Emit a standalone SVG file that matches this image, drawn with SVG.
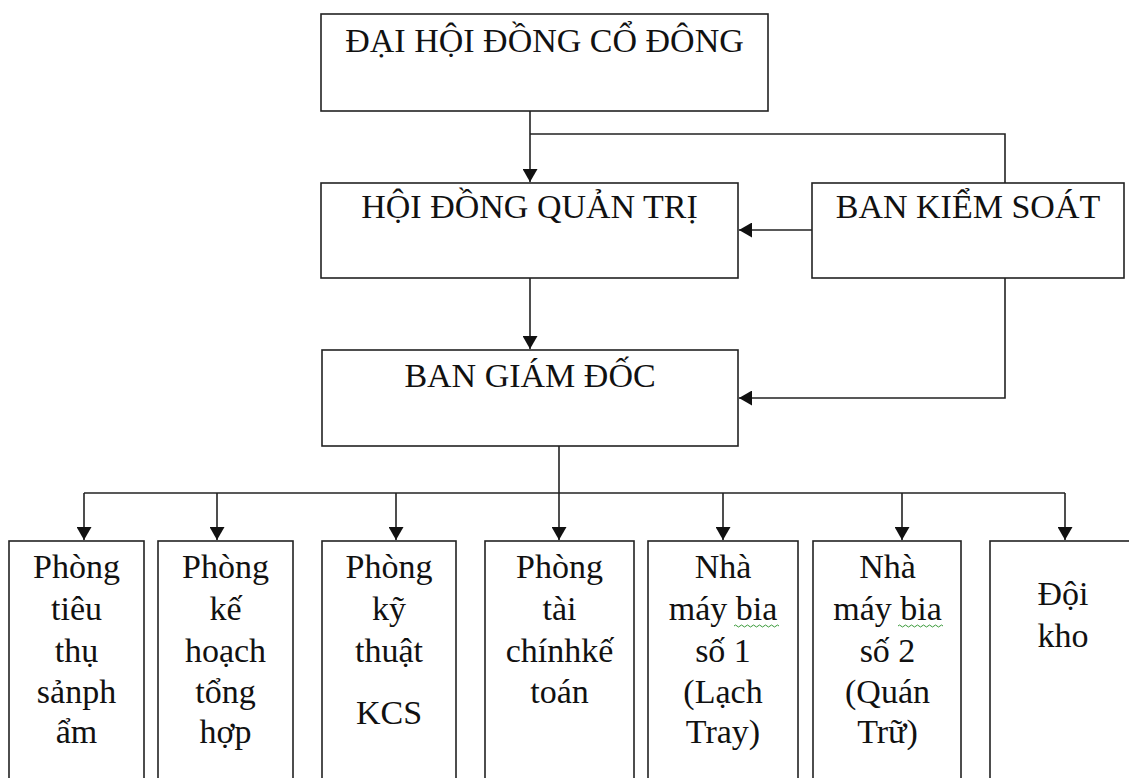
<svg xmlns="http://www.w3.org/2000/svg" width="1129" height="778" viewBox="0 0 1129 778">
<defs>
<marker id="arr" markerUnits="userSpaceOnUse" markerWidth="14" markerHeight="15" refX="13" refY="7.5" orient="auto">
<path d="M0,0 L13,7.5 L0,15 Z" fill="#111"/>
</marker>
<style>
.box{fill:#fff;stroke:#222;stroke-width:1.6}
.t{font-family:"Liberation Serif","Times New Roman",serif;font-size:34px;fill:#111;text-anchor:middle}
.c{fill:none;stroke:#222;stroke-width:1.6}
.sq{fill:none;stroke:#3a9a3a;stroke-width:1}
</style>
</defs>
<rect width="1129" height="778" fill="#fff"/>

<g id="connectors">
<path class="c" d="M530 111 V182" marker-end="url(#arr)"/>
<path class="c" d="M530 134 H1005 V183"/>
<path class="c" d="M812 230 H739" marker-end="url(#arr)"/>
<path class="c" d="M1005 278 V398 H739" marker-end="url(#arr)"/>
<path class="c" d="M530 278 V349" marker-end="url(#arr)"/>
<path class="c" d="M559 446 V540" marker-end="url(#arr)"/>
<path class="c" d="M84 493 H1065"/>
<path class="c" d="M84 493 V540" marker-end="url(#arr)"/>
<path class="c" d="M217 493 V540" marker-end="url(#arr)"/>
<path class="c" d="M396 493 V540" marker-end="url(#arr)"/>
<path class="c" d="M723 493 V540" marker-end="url(#arr)"/>
<path class="c" d="M902 493 V540" marker-end="url(#arr)"/>
<path class="c" d="M1065 493 V540" marker-end="url(#arr)"/>
</g>

<g id="dhdcd">
<rect class="box" x="321" y="14" width="447" height="97"/>
<text class="t" x="544.5" y="52">ĐẠI HỘI ĐỒNG CỔ ĐÔNG</text>
</g>

<g id="hdqt">
<rect class="box" x="321" y="183" width="417" height="95"/>
<text class="t" x="529.5" y="218">HỘI ĐỒNG QUẢN TRỊ</text>
</g>

<g id="bks">
<rect class="box" x="812" y="183" width="312" height="95"/>
<text class="t" x="968" y="218">BAN KIỂM SOÁT</text>
</g>

<g id="bgd">
<rect class="box" x="322" y="350" width="416" height="96"/>
<text class="t" x="530" y="387">BAN GIÁM ĐỐC</text>
</g>

<g id="p1">
<rect class="box" x="9" y="541" width="135" height="260"/>
<text class="t" x="76.5" y="578">Phòng</text>
<text class="t" x="76.5" y="620">tiêu</text>
<text class="t" x="76.5" y="662">thụ</text>
<text class="t" x="76.5" y="703">sảnph</text>
<text class="t" x="76.5" y="743">ẩm</text>
</g>

<g id="p2">
<rect class="box" x="158" y="541" width="135" height="260"/>
<text class="t" x="225.5" y="578">Phòng</text>
<text class="t" x="225.5" y="620">kế</text>
<text class="t" x="225.5" y="662">hoạch</text>
<text class="t" x="225.5" y="703">tổng</text>
<text class="t" x="225.5" y="743">hợp</text>
</g>

<g id="p3">
<rect class="box" x="322" y="541" width="134" height="260"/>
<text class="t" x="389" y="578">Phòng</text>
<text class="t" x="389" y="620">kỹ</text>
<text class="t" x="389" y="662">thuật</text>
<text class="t" x="389" y="724">KCS</text>
</g>

<g id="p4">
<rect class="box" x="485" y="541" width="149" height="260"/>
<text class="t" x="559.5" y="578">Phòng</text>
<text class="t" x="559.5" y="620">tài</text>
<text class="t" x="559.5" y="662">chínhkế</text>
<text class="t" x="559.5" y="703">toán</text>
</g>

<g id="nm1">
<rect class="box" x="648" y="541" width="150" height="260"/>
<text class="t" x="723" y="578">Nhà</text>
<text class="t" x="723" y="620">máy bia</text>
<path class="sq" d="M734 626 q1.5 -2 3 0 t3 0 t3 0 t3 0 t3 0 t3 0 t3 0 t3 0 t3 0 t3 0 t3 0 t3 0 t3 0 t3 0 t3 0"/>
<text class="t" x="723" y="662">số 1</text>
<text class="t" x="723" y="703">(Lạch</text>
<text class="t" x="723" y="743">Tray)</text>
</g>

<g id="nm2">
<rect class="box" x="813" y="541" width="148" height="260"/>
<text class="t" x="887.5" y="578">Nhà</text>
<text class="t" x="887.5" y="620">máy bia</text>
<path class="sq" d="M898 626 q1.5 -2 3 0 t3 0 t3 0 t3 0 t3 0 t3 0 t3 0 t3 0 t3 0 t3 0 t3 0 t3 0 t3 0 t3 0 t3 0"/>
<text class="t" x="887.5" y="662">số 2</text>
<text class="t" x="887.5" y="703">(Quán</text>
<text class="t" x="887.5" y="743">Trữ)</text>
</g>

<g id="dk">
<rect class="box" x="990" y="541" width="160" height="260"/>
<text class="t" x="1063" y="605">Đội</text>
<text class="t" x="1063" y="647">kho</text>
</g>
</svg>
